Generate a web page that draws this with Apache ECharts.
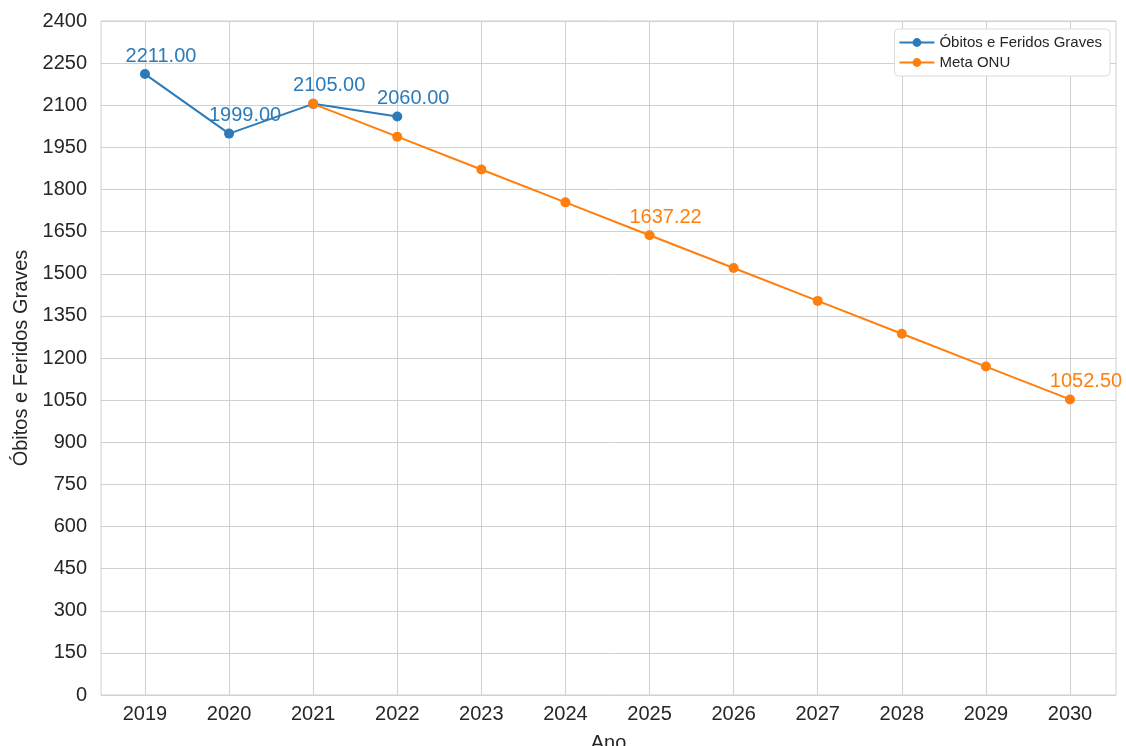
<!DOCTYPE html>
<html>
<head>
<meta charset="utf-8">
<script src="https://cdn.jsdelivr.net/npm/echarts@6/dist/echarts.min.js"></script>
<style>
html,body{margin:0;padding:0;background:#fff;}
#main{width:1126px;height:746px;}
</style>
</head>
<body>
<div id="main"></div>
<script>
// dados
var anos = [2019, 2020, 2021, 2022, 2023, 2024, 2025, 2026, 2027, 2028, 2029, 2030];
var anosReal = [2019, 2020, 2021, 2022];
var obitos = [2211, 1999, 2105, 2060];
var anosMeta = [2021, 2022, 2023, 2024, 2025, 2026, 2027, 2028, 2029, 2030];
var meta = [2105, 1988.06, 1871.11, 1754.17, 1637.22, 1520.28, 1403.33, 1286.39, 1169.44, 1052.50];
var anosMetaRotulo = [2025, 2030];

var azul = '#2b7bba';
var laranja = '#ff7f0e';
var fonte = 'Liberation Sans, Arial, sans-serif';

var serieReal = anosReal.map(function(a, i){ return [a, obitos[i]]; });
var serieMeta = anosMeta.map(function(a, i){
    var d = {value: [a, meta[i]]};
    if (anosMetaRotulo.indexOf(a) < 0) d.label = {show: false};
    return d;
});

var myChart = echarts.init(document.getElementById('main'));
var option = {
    animation: false,
    textStyle: {fontFamily: fonte},
    grid: {
        left: 101, right: 10, top: 21, bottom: 51,
        containLabel: false, outerBoundsMode: 'none',
        show: true, borderColor: '#d0d0d0', borderWidth: 1
    },
    legend: {
        orient: 'vertical',
        right: 16, top: 29,
        itemWidth: 35, itemHeight: 11, itemGap: 5,
        padding: [6, 8, 6, 4],
        backgroundColor: '#fff',
        borderColor: '#dcdcdc', borderWidth: 1, borderRadius: 4,
        textStyle: {fontSize: 15, color: '#262626', fontFamily: fonte},
        data: ['Óbitos e Feridos Graves', 'Meta ONU']
    },
    xAxis: {
        type: 'value',
        min: 2018.477, max: 2030.547,
        name: 'Ano', nameLocation: 'middle', nameGap: 38,
        nameTextStyle: {fontSize: 20, color: '#262626'},
        axisLine: {show: false},
        axisTick: {show: false, customValues: anos},
        axisLabel: {customValues: anos, fontSize: 20, color: '#262626', margin: 9,
            formatter: function(v){ return String(Math.round(v)); }},
        splitLine: {show: true, lineStyle: {color: '#d0d0d0', width: 1}}
    },
    yAxis: {
        type: 'value',
        min: 0, max: 2400, interval: 150,
        name: 'Óbitos e Feridos Graves', nameLocation: 'middle', nameGap: 70,
        nameTextStyle: {fontSize: 20, color: '#262626'},
        axisLine: {show: false},
        axisTick: {show: false},
        axisLabel: {fontSize: 20, color: '#262626', margin: 14,
            formatter: function(v){ return String(v); }},
        splitLine: {show: true, lineStyle: {color: '#d0d0d0', width: 1}}
    },
    series: [
        {
            name: 'Óbitos e Feridos Graves',
            type: 'line',
            data: serieReal,
            color: azul,
            symbol: 'circle', symbolSize: 10,
            lineStyle: {width: 2},
            z: 2,
            label: {
                show: true, position: 'top', offset: [16, 2],
                fontSize: 20, color: azul,
                formatter: function(p){ return p.value[1].toFixed(2); }
            }
        },
        {
            name: 'Meta ONU',
            type: 'line',
            data: serieMeta,
            color: laranja,
            symbol: 'circle', symbolSize: 10,
            lineStyle: {width: 2},
            z: 3,
            label: {
                show: true, position: 'top', offset: [16, 2],
                fontSize: 20, color: laranja,
                formatter: function(p){ return p.value[1].toFixed(2); }
            }
        }
    ]
};
myChart.setOption(option);
</script>
</body>
</html>
